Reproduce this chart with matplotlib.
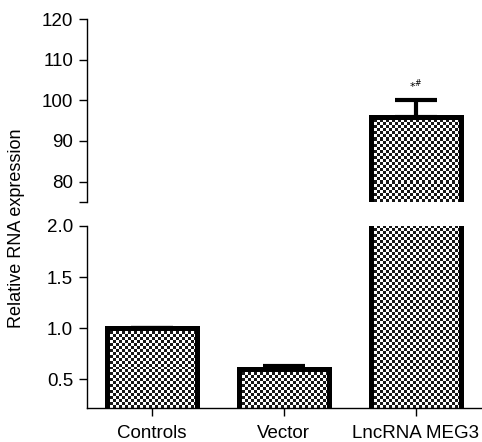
import matplotlib.pyplot as plt
import numpy as np

plt.rcParams['font.family'] = ['Liberation Sans', 'DejaVu Sans']

# data
groups = ['Controls', 'Vector', 'LncRNA MEG3']
means = [1.0, 0.6, 96.0]
errs = [0.0, 0.03, 4.1]

x = np.arange(len(groups))
bar_w = 0.68

fig = plt.figure(figsize=(4.82, 4.42), dpi=100)
ax_top = fig.add_axes([0.1805, 0.543, 0.8195, 0.414])
ax_bot = fig.add_axes([0.1805, 0.077, 0.8195, 0.412])

limits = {ax_top: (75, 120), ax_bot: (0.22, 2.0)}


def checker_fill(ax, bar, cell=3):
    # checkerboard texture inside the visible part of one bar
    x0, y0 = bar.get_x(), bar.get_y()
    x1, y1 = x0 + bar.get_width(), y0 + bar.get_height()
    lo, hi = ax.get_ylim()
    y0c, y1c = max(y0, lo), min(y1, hi)
    if y1c <= y0c:
        return
    p0 = ax.transData.transform((x0, y0c))
    p1 = ax.transData.transform((x1, y1c))
    nx = max(1, int(round(abs(p1[0] - p0[0]) / cell)))
    ny = max(1, int(round(abs(p1[1] - p0[1]) / cell)))
    board = np.add.outer(np.arange(ny), np.arange(nx)) % 2
    ax.imshow(board, cmap='gray', vmin=-0.1, vmax=1.0, extent=(x0, x1, y0c, y1c),
              interpolation='nearest', aspect='auto', zorder=1)


for ax in (ax_top, ax_bot):
    ax.set_xlim(-0.49, 2.5)
    ax.set_ylim(*limits[ax])
    bars = ax.bar(x, means, width=bar_w, facecolor='none', edgecolor='black',
                  linewidth=3.6, zorder=2)
    ax.errorbar(x, means, yerr=[np.zeros(len(x)), errs], fmt='none',
                ecolor='black', elinewidth=3, capsize=15, capthick=3, zorder=3)
    for b in bars:
        checker_fill(ax, b)
    ax.set_xlim(-0.49, 2.5)
    ax.set_ylim(*limits[ax])
    ax.spines['top'].set_visible(False)
    ax.spines['right'].set_visible(False)
    ax.spines['left'].set_linewidth(1.0)
    ax.spines['bottom'].set_linewidth(1.0)
    ax.tick_params(direction='out', length=6, width=1.0, labelsize=13.5, pad=4)

# upper panel
ax_top.spines['bottom'].set_visible(False)
ax_top.set_xticks([])
ax_top.set_yticks([75, 80, 90, 100, 110, 120])
ax_top.set_yticklabels(['', '80', '90', '100', '110', '120'])
ax_top.text(2, 102.6, r'$*^{\#}$', ha='center', va='bottom', fontsize=8)

# lower panel
ax_bot.set_yticks([0.5, 1.0, 1.5, 2.0])
ax_bot.set_yticklabels(['0.5', '1.0', '1.5', '2.0'])
ax_bot.set_xticks(x)
ax_bot.set_xticklabels(groups, fontsize=13.5)
ax_bot.tick_params(axis='x', pad=6)

fig.text(0.035, 0.484, 'Relative RNA expression', rotation=90,
         ha='center', va='center', fontsize=13)

fig.savefig('out.png', dpi=100)
